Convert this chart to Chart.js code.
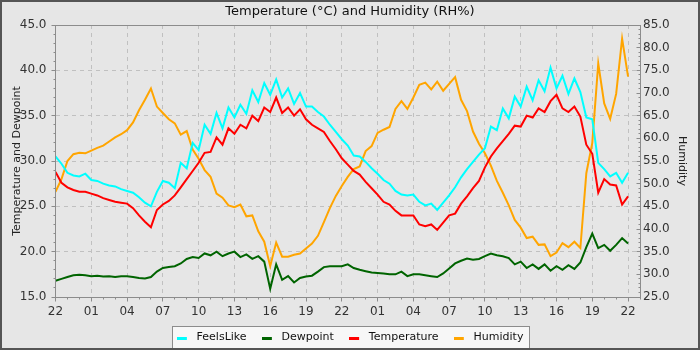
<!DOCTYPE html>
<html lang="en">
<head>
  <meta charset="UTF-8" />
  <title>Temperature and Humidity</title>
  <script src="https://cdn.jsdelivr.net/npm/chart.js@4.4.0/dist/chart.umd.min.js"></script>
  <style>
    html, body { margin: 0; padding: 0; background: #e6e6e6; }
    #wrap { width: 700px; height: 350px; }
  </style>
</head>
<body>
  <div id="wrap"><canvas id="chart" width="700" height="350"></canvas></div>

  <script>
    // --- Data: one reading every half hour, starting at 22:00 ------------
    const startHour = 0;      // hours after 22:00 on day one
    const stepHours = 0.5;

    const temperature = [
      28.8, 27.6, 27.1, 26.8, 26.6, 26.6, 26.4, 26.2, 25.9, 25.7, 25.5, 25.4,
      25.3, 24.8, 24.0, 23.3, 22.7, 24.6, 25.2, 25.6, 26.2, 27.1, 28.0, 28.9,
      29.8, 30.9, 31.0, 32.6, 31.8, 33.6, 33.0, 34.0, 33.6, 35.0, 34.4, 35.9,
      35.4, 37.0, 35.3, 35.9, 35.0, 35.7, 34.6, 34.0, 33.6, 33.2, 32.2, 31.3,
      30.3, 29.6, 28.9, 28.5, 27.7, 27.0, 26.3, 25.5, 25.2, 24.5, 24.0, 24.0,
      24.0, 23.0, 22.8, 23.0, 22.4, 23.2, 24.0, 24.2, 25.3, 26.1, 27.0, 27.8,
      29.3, 30.5, 31.4, 32.2, 33.0, 33.9, 33.8, 35.0, 34.8, 35.8, 35.4, 36.6,
      37.3, 35.8, 35.4, 36.0, 34.9, 31.8, 30.8, 26.5, 28.0, 27.4, 27.3, 25.2,
      26.1
    ];

    const feelsLike = [
      30.5, 29.7, 28.7, 28.4, 28.3, 28.6, 27.9, 27.8, 27.5, 27.3, 27.2, 26.9,
      26.7, 26.5, 26.0, 25.4, 25.0, 26.6, 27.8, 27.6, 27.0, 29.8, 29.2, 32.0,
      31.2, 34.0, 33.0, 35.3, 33.6, 35.9, 34.8, 36.2, 35.2, 37.8, 36.5, 38.6,
      37.3, 39.0, 37.0, 38.0, 36.3, 37.5, 36.0, 36.0, 35.4, 34.9, 34.0, 33.2,
      32.4, 31.7, 30.6, 30.5, 29.9, 29.2, 28.6, 27.9, 27.5, 26.7, 26.3, 26.2,
      26.3, 25.5, 25.1, 25.3, 24.6, 25.4, 26.2, 27.1, 28.2, 29.1, 29.9, 30.7,
      31.4, 33.8, 33.4, 35.8, 34.7, 37.1, 36.0, 38.2, 36.7, 38.9, 37.7, 40.3,
      38.0, 39.4, 37.4, 39.1, 37.6, 34.8, 34.6, 29.8, 29.1, 28.3, 28.7, 27.6,
      28.7
    ];

    const dewpoint = [
      16.8, 17.0, 17.2, 17.4, 17.45, 17.4, 17.3, 17.35, 17.25, 17.3, 17.2, 17.3,
      17.3, 17.2, 17.1, 17.05, 17.2, 17.8, 18.2, 18.3, 18.4, 18.7, 19.2, 19.4,
      19.3, 19.8, 19.6, 20.0, 19.5, 19.8, 20.0, 19.4, 19.7, 19.2, 19.5, 18.9,
      15.9, 18.6, 16.9, 17.3, 16.6, 17.1, 17.25, 17.35, 17.8, 18.3, 18.4, 18.4,
      18.4, 18.6, 18.2, 18.0, 17.85, 17.7, 17.65, 17.6, 17.5, 17.5, 17.8, 17.3,
      17.5, 17.5, 17.4, 17.3, 17.2, 17.6, 18.15, 18.7, 19.0, 19.25, 19.1, 19.2,
      19.5, 19.8, 19.6, 19.5, 19.3, 18.6, 18.9, 18.2, 18.6, 18.1, 18.6, 17.9,
      18.4, 18.0, 18.5, 18.1, 18.8, 20.5, 22.0, 20.4, 20.75, 20.1, 20.75, 21.5,
      20.9
    ];

    const humidity = [
      48.2, 51.0, 55.0, 56.5, 56.8, 56.7, 57.3, 57.9, 58.4, 59.3, 60.2, 60.9,
      61.8, 63.5, 66.2, 68.5, 71.0, 67.0, 65.6, 64.2, 63.3, 60.8, 61.6, 57.5,
      55.5, 53.0, 51.5, 47.8, 46.9, 45.2, 44.8, 45.4, 42.8, 43.0, 39.5, 37.2,
      31.8, 37.0, 33.9, 33.9, 34.3, 34.6, 35.7, 36.8, 38.5, 41.5, 44.6, 47.3,
      49.5, 51.5, 53.2, 53.8, 57.2, 58.3, 61.2, 61.9, 62.5, 66.5, 68.2, 66.5,
      69.0, 71.8, 72.3, 70.8, 72.5, 70.5, 72.0, 73.5, 68.5, 66.0, 61.5, 58.8,
      56.7, 54.0, 50.6, 48.0, 45.2, 42.0, 40.3, 38.0, 38.3, 36.5, 36.6, 34.0,
      34.8, 36.9, 36.0, 37.2, 35.8, 52.3, 59.0, 76.5, 67.7, 64.3, 69.8, 82.0,
      73.6
    ];

    // --- Axis ticks --------------------------------------------------------
    const xTickHours  = [0, 3, 6, 9, 12, 15, 18, 21, 24, 27, 30, 33, 36, 39, 42, 45, 48];
    const xTickLabels = ['22', '01', '04', '07', '10', '13', '16', '19', '22',
                         '01', '04', '07', '10', '13', '16', '19', '22'];
    const xRange = [0, 49];
    const tempRange = [15, 45];
    const humRange = [25, 85];

    const hours = temperature.map((_, i) => startHour + i * stepHours);
    const points = values => values.map((v, i) => ({ x: hours[i], y: v }));

    Chart.defaults.font.family = '"DejaVu Sans", sans-serif';
    Chart.defaults.font.size = 12;
    Chart.defaults.color = '#333';

    const GRID = '#c0c0c0';
    const AXIS = '#8c8c8c';

    // short line used as legend key, with a gap before the text
    function legendKey(color) {
      const c = document.createElement('canvas');
      c.width = 14;
      c.height = 7;
      const g = c.getContext('2d');
      g.fillStyle = color;
      g.fillRect(0, 3, 10, 3);
      return c;
    }

    // background, legend frame, plot outline and minor ticks
    const frame = {
      id: 'frame',
      beforeDraw(chart) {
        const { ctx, width, height } = chart;
        ctx.save();
        ctx.fillStyle = '#e6e6e6';
        ctx.fillRect(0, 0, width, height);
        const boxes = chart.legend.legendHitBoxes;
        if (boxes && boxes.length) {
          const first = boxes[0], last = boxes[boxes.length - 1];
          const x0 = Math.round(first.left - 5) + 0.5;
          const x1 = Math.round(last.left + last.width + 6) + 0.5;
          const y0 = Math.round(first.top - 6) + 0.5;
          ctx.fillStyle = '#f7f7f7';
          ctx.fillRect(x0, y0, x1 - x0, height - y0);
          ctx.strokeStyle = AXIS;
          ctx.lineWidth = 1;
          ctx.strokeRect(x0, y0, x1 - x0, height + 5 - y0);
        }
        ctx.restore();
      },
      afterDraw(chart) {
        const { ctx, width, height, chartArea: a, scales } = chart;
        const L = Math.floor(a.left) + 0.5, R = Math.floor(a.right) + 0.5;
        const T = Math.floor(a.top) + 0.5, B = Math.floor(a.bottom) + 0.5;
        ctx.save();
        ctx.strokeStyle = AXIS;
        ctx.lineWidth = 1;
        ctx.strokeRect(L, T, R - L, B - T);
        ctx.beginPath();
        for (let h = xRange[0]; h <= xRange[1]; h++) {
          const px = Math.floor(scales.x.getPixelForValue(h)) + 0.5;
          ctx.moveTo(px, B);
          ctx.lineTo(px, B + (h % 3 === 0 ? 4 : 2));
        }
        for (let v = tempRange[0]; v <= tempRange[1]; v++) {
          const py = Math.floor(scales.y.getPixelForValue(v)) + 0.5;
          ctx.moveTo(L, py);
          ctx.lineTo(L - (v % 5 === 0 ? 4 : 2), py);
        }
        for (let v = humRange[0]; v <= humRange[1]; v++) {
          const py = Math.floor(scales.y1.getPixelForValue(v)) + 0.5;
          ctx.moveTo(R, py);
          ctx.lineTo(R - (v % 5 === 0 ? 4 : 2), py);
        }
        ctx.stroke();
        ctx.strokeStyle = '#555';
        ctx.lineWidth = 2;
        ctx.strokeRect(1, 1, width - 2, height - 2);
        ctx.restore();
      }
    };

    const series = [
      { label: 'FeelsLike',   data: feelsLike,   color: '#00ffff', axis: 'y',  order: 3 },
      { label: 'Dewpoint',    data: dewpoint,    color: '#006400', axis: 'y',  order: 2 },
      { label: 'Temperature', data: temperature, color: '#ff0000', axis: 'y',  order: 1 },
      { label: 'Humidity',    data: humidity,    color: '#ffa500', axis: 'y1', order: 4 }
    ];

    new Chart(document.getElementById('chart'), {
      type: 'line',
      data: {
        datasets: series.map(s => ({
          label: s.label,
          data: points(s.data),
          yAxisID: s.axis,
          order: s.order,
          borderColor: s.color,
          backgroundColor: s.color,
          borderWidth: 2,
          pointRadius: 0,
          tension: 0,
          fill: false
        }))
      },
      options: {
        responsive: false,
        animation: false,
        layout: { padding: { top: 0, left: 0, right: 0, bottom: -3 } },
        scales: {
          x: {
            type: 'linear',
            min: xRange[0],
            max: xRange[1],
            afterBuildTicks: s => { s.ticks = xTickHours.map(v => ({ value: v })); },
            afterFit: s => { s.height = 20; },
            ticks: {
              autoSkip: false,
              maxRotation: 0,
              padding: 7.5,
              color: '#333',
              callback: (v, i) => xTickLabels[i]
            },
            grid: { color: GRID, drawTicks: false },
            border: { display: false, dash: [4, 4] }
          },
          y: {
            position: 'left',
            min: tempRange[0],
            max: tempRange[1],
            afterFit: s => { s.width = 55.5; },
            ticks: { stepSize: 5, padding: 9, color: '#333', callback: v => v.toFixed(1) },
            grid: { color: GRID, drawTicks: false },
            border: { display: false, dash: [4, 4] },
            title: {
              display: true,
              text: 'Temperature and Dewpoint',
              color: '#222',
              font: { size: 11 },
              padding: { top: 10.4, bottom: 0 }
            }
          },
          y1: {
            position: 'right',
            min: humRange[0],
            max: humRange[1],
            afterFit: s => { s.width = 60; },
            ticks: { stepSize: 5, padding: 3, color: '#333', callback: v => v.toFixed(1) },
            grid: { drawOnChartArea: false, drawTicks: false },
            border: { display: false },
            title: {
              display: true,
              text: 'Humidity',
              color: '#222',
              font: { size: 11 },
              padding: { top: 11.4, bottom: 0 }
            }
          }
        },
        plugins: {
          title: {
            display: true,
            text: 'Temperature (°C) and Humidity (RH%)',
            color: '#111',
            font: { size: 13, weight: 'normal' },
            padding: { top: 4, bottom: 5.4 }
          },
          legend: {
            position: 'bottom',
            labels: {
              usePointStyle: true,
              pointStyleWidth: 14.5,
              padding: 15,
              color: '#111',
              font: { size: 11 },
              sort: (a, b) => a.datasetIndex - b.datasetIndex,
              generateLabels: chart =>
                Chart.defaults.plugins.legend.labels.generateLabels(chart)
                  .map(item => Object.assign(item, {
                    lineWidth: 0,
                    pointStyle: legendKey(series[item.datasetIndex].color)
                  }))
            }
          },
          tooltip: { enabled: false }
        }
      },
      plugins: [frame]
    });
  </script>
</body>
</html>
